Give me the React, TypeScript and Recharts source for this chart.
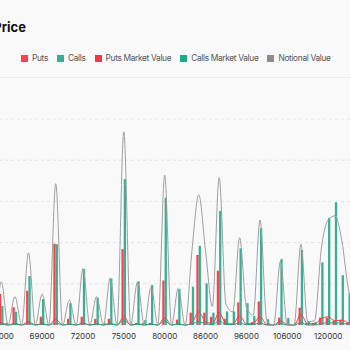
import { ComposedChart, Bar, Line, XAxis, YAxis, CartesianGrid } from 'recharts';

// strike prices (first six sit left of the visible crop)
const strikes = [
  63000, 63500, 64000, 64500, 65000, 65500,
  66000, 66500, 67000, 67500, 68000, 68500, 69000, 69500, 70000, 70500, 71000, 71500, 72000,
  72500, 73000, 73500, 74000, 74500, 75000,
  75500, 76000, 77000, 78000, 79000, 80000,
  81000, 82000, 83000, 84000, 85000, 86000,
  87000, 88000, 90000, 92000, 94000, 96000,
  98000, 100000, 102000, 104000, 105000, 106000,
  108000, 110000, 112000, 115000, 118000, 120000,
  125000, 130000, 135000, 140000, 150000,
];

// open interest, contracts
const puts = [
  100, 0, 300, 0, 500, 20,
  750, 50, 430, 0, 830, 0, 200, 0, 1970, 0, 150, 0, 200,
  20, 150, 0, 150, 0, 1840,
  0, 50, 50, 50, 0, 1080,
  0, 130, 0, 300, 1700, 300,
  200, 1320, 150, 40, 550, 30,
  70, 570, 20, 0, 180, 20,
  0, 420, 50, 50, 180, 180,
  100, 120, 50, 50, 0,
];
const calls = [
  300, 50, 600, 50, 400, 20,
  460, 0, 320, 0, 1190, 0, 630, 0, 1960, 0, 530, 20, 1360,
  20, 660, 50, 1130, 0, 3540,
  30, 1060, 120, 970, 0, 3090,
  0, 870, 0, 930, 1920, 1010,
  300, 2770, 330, 330, 1860, 530,
  220, 2350, 140, 0, 1600, 170,
  50, 1820, 100, 70, 1520, 2600,
  2980, 1210, 770, 400, 200,
];

// values, $M
const notional = [
  35, 0, 90, 0, 80, 0,
  105, 0, 69, 0, 175, 0, 75, 0, 343, 0, 60, 0, 137,
  0, 69, 0, 114, 0, 469,
  0, 104, 0, 92, 0, 364,
  0, 89, 0, 180, 316, 180,
  45, 358, 50, 32, 212, 44,
  24, 255, 10, 0, 155, 0,
  0, 196, 8, 10, 185, 255,
  265, 206, 85, 40, 20,
];
const putsMarketValue = [
  2, 0, 4, 0, 4, 0,
  5, 0, 4, 0, 8, 0, 2, 0, 14, 0, 2, 0, 5,
  0, 3, 0, 4, 0, 20,
  0, 3, 0, 2, 0, 18,
  0, 3, 0, 6, 32, 8,
  4, 29, 4, 2, 22, 3,
  4, 20, 1, 0, 10, 1,
  0, 25, 3, 3, 15, 20,
  10, 12, 5, 3, 0,
];
const callsMarketValue = [
  1, 0, 3, 0, 2, 0,
  2, 0, 2, 0, 4, 0, 3, 0, 5, 0, 2, 0, 4,
  0, 2, 0, 3, 0, 12,
  0, 2, 0, 2, 0, 10,
  0, 2, 0, 3, 8, 3,
  1, 10, 1, 1, 5, 1,
  1, 5, 0, 0, 4, 0,
  0, 5, 0, 0, 4, 5,
  5, 4, 2, 1, 1,
];

const oiTicks = [0, 1000, 2000, 3000, 4000, 5000];

const data = strikes.map((strike, i) => ({
  strike,
  puts: puts[i],
  calls: calls[i],
  notional: notional[i],
  putsMV: putsMarketValue[i],
  callsMV: callsMarketValue[i],
}));

const LEGEND = [
  { name: 'Puts', color: '#f3444f' },
  { name: 'Calls', color: '#3aae94' },
  { name: 'Puts Market Value', color: '#f2394a' },
  { name: 'Calls Market Value', color: '#1ea689' },
  { name: 'Notional Value', color: '#8c8c8c' },
];

const FONT = 'Inter, "Noto Sans", sans-serif';

export default function App() {
  return (
    <div style={{ position: 'fixed', left: 0, top: 0, width: 350, height: 350, overflow: 'hidden', background: '#f9f9f9', fontFamily: FONT }}>
      <div style={{ position: 'absolute', right: 324, top: 18, whiteSpace: 'nowrap', fontSize: 13, fontWeight: 700, color: '#111', lineHeight: '18px' }}>
        Open Interest By Strike Price
      </div>

      <div style={{ position: 'absolute', left: 21, top: 52, display: 'flex', alignItems: 'center', whiteSpace: 'nowrap' }}>
        {LEGEND.map((s) => (
          <div key={s.name} style={{ display: 'flex', alignItems: 'center', marginRight: 9 }}>
            <span style={{ width: 7, height: 7, background: s.color, marginRight: 4, display: 'inline-block' }} />
            <span style={{ fontSize: 8.4, letterSpacing: -0.35, color: '#555', lineHeight: '12px' }}>{s.name}</span>
          </div>
        ))}
      </div>

      <div style={{ position: 'absolute', left: 0, right: 0, top: 77, borderTop: '1px solid #ededed' }} />

      <div style={{ position: 'absolute', left: -43.3, top: 114 }}>
        <ComposedChart width={408.6} height={236} data={data} margin={{ top: 5, right: 0, left: 0, bottom: 0 }} barGap={0} barSize={2.3}>
          <CartesianGrid yAxisId="oi" vertical={false} stroke="#e4e4e4" strokeDasharray="3 3" />
          <XAxis dataKey="strike" interval={5} axisLine={false} tickLine={false} height={25}
            tick={{ fontSize: 8, fill: '#333', fontFamily: FONT }} />
          <YAxis yAxisId="oi" hide domain={[0, 5000]} ticks={oiTicks} />
          <YAxis yAxisId="usd" orientation="right" hide domain={[0, 500]} />
          <Bar yAxisId="oi" dataKey="puts" name="Puts" fill="#f3444f" isAnimationActive={false} />
          <Bar yAxisId="oi" dataKey="calls" name="Calls" fill="#3aae94" isAnimationActive={false} />
          <Line yAxisId="usd" type="monotone" dataKey="putsMV" name="Puts Market Value" stroke="#f2394a" strokeWidth={1} dot={false} isAnimationActive={false} />
          <Line yAxisId="usd" type="monotone" dataKey="callsMV" name="Calls Market Value" stroke="#1ea689" strokeWidth={1} dot={false} isAnimationActive={false} />
          <Line yAxisId="usd" type="monotone" dataKey="notional" name="Notional Value" stroke="#9e9e9e" strokeWidth={1} dot={false} isAnimationActive={false} />
        </ComposedChart>
      </div>
    </div>
  );
}
